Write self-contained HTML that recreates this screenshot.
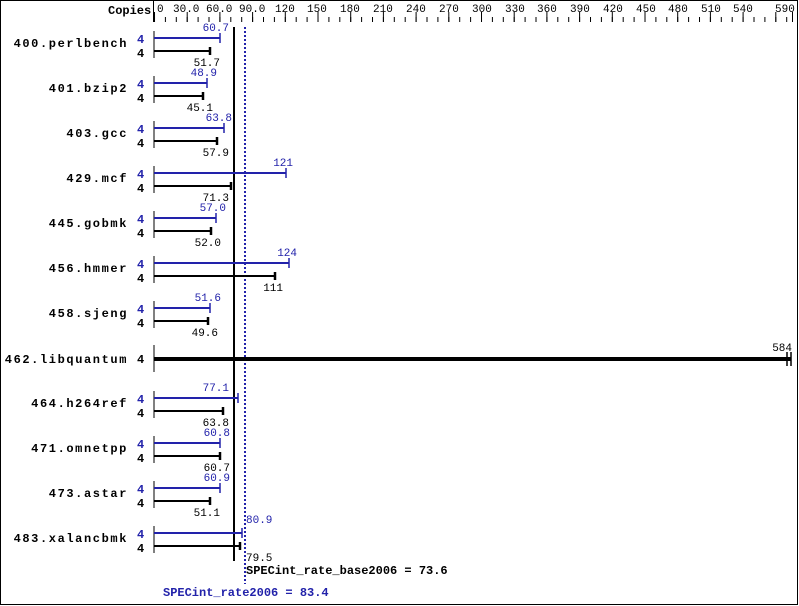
<!DOCTYPE html>
<html><head><meta charset="utf-8"><style>
body{margin:0;background:#fff}
svg{display:block}
text{font-family:"Liberation Mono","DejaVu Sans Mono",monospace}
.v{font-size:11px}
.n{font-size:12px;font-weight:bold;letter-spacing:1.6px}
.c{font-size:12px;font-weight:bold}
.b{fill:#2222aa}
</style></head><body>
<svg width="799" height="606" viewBox="0 0 799 606" xmlns="http://www.w3.org/2000/svg">
<defs>
<pattern id="mn" x="154" y="0" width="10.9" height="606" patternUnits="userSpaceOnUse"><rect x="0" y="0" width="1" height="606" fill="#000"/></pattern>
<pattern id="mj" x="154" y="0" width="32.7" height="606" patternUnits="userSpaceOnUse"><rect x="0" y="0" width="1" height="606" fill="#000"/></pattern>
</defs>
<rect x="0.5" y="0.5" width="797" height="604" fill="#fff" stroke="#000"/>
<line x1="153.5" y1="0" x2="153.5" y2="22" stroke="#000"/>
<text x="108" y="14" class="c">Copies</text>
<rect x="154" y="17" width="640" height="5" fill="url(#mn)"/>
<rect x="154" y="12" width="640" height="10" fill="url(#mj)"/>
<rect x="792" y="12" width="1" height="10" fill="#000"/>
<g class="v">
<text x="157" y="12">0</text><text x="173" y="12">30.0</text><text x="206" y="12">60.0</text><text x="239" y="12">90.0</text>
<text x="275" y="12">120</text><text x="307" y="12">150</text><text x="340" y="12">180</text><text x="373" y="12">210</text>
<text x="406" y="12">240</text><text x="439" y="12">270</text><text x="472" y="12">300</text><text x="505" y="12">330</text>
<text x="537" y="12">360</text><text x="570" y="12">390</text><text x="603" y="12">420</text><text x="636" y="12">450</text>
<text x="668" y="12">480</text><text x="701" y="12">510</text><text x="733" y="12">540</text><text x="775" y="12">590</text>
</g>
<line x1="234" y1="27" x2="234" y2="561" stroke="#000" stroke-width="2"/>
<line x1="245" y1="27" x2="245" y2="584" stroke="#2222aa" stroke-width="2" stroke-dasharray="2,2"/>
<g>
<g transform="translate(0,0)">
<text x="128" y="47" class="n" text-anchor="end">400.perlbench</text>
<text x="137" y="43" class="c b">4</text><text x="137" y="57" class="c">4</text>
<line x1="154" y1="31" x2="154" y2="58" stroke="#000"/>
<line x1="154" y1="38" x2="220" y2="38" stroke="#2222aa" stroke-width="2"/><line x1="220" y1="33" x2="220" y2="43" stroke="#2222aa" stroke-width="1.5"/>
<line x1="154" y1="51" x2="210" y2="51" stroke="#000" stroke-width="2"/><line x1="210" y1="47" x2="210" y2="55" stroke="#000" stroke-width="2.5"/>
<text x="229" y="31" class="v b" text-anchor="end">60.7</text><text x="220" y="66" class="v" text-anchor="end">51.7</text>
</g>
<g transform="translate(0,45)">
<text x="128" y="47" class="n" text-anchor="end">401.bzip2</text>
<text x="137" y="43" class="c b">4</text><text x="137" y="57" class="c">4</text>
<line x1="154" y1="31" x2="154" y2="58" stroke="#000"/>
<line x1="154" y1="38" x2="207" y2="38" stroke="#2222aa" stroke-width="2"/><line x1="207" y1="33" x2="207" y2="43" stroke="#2222aa" stroke-width="1.5"/>
<line x1="154" y1="51" x2="203" y2="51" stroke="#000" stroke-width="2"/><line x1="203" y1="47" x2="203" y2="55" stroke="#000" stroke-width="2.5"/>
<text x="217" y="31" class="v b" text-anchor="end">48.9</text><text x="213" y="66" class="v" text-anchor="end">45.1</text>
</g>
<g transform="translate(0,90)">
<text x="128" y="47" class="n" text-anchor="end">403.gcc</text>
<text x="137" y="43" class="c b">4</text><text x="137" y="57" class="c">4</text>
<line x1="154" y1="31" x2="154" y2="58" stroke="#000"/>
<line x1="154" y1="38" x2="224" y2="38" stroke="#2222aa" stroke-width="2"/><line x1="224" y1="33" x2="224" y2="43" stroke="#2222aa" stroke-width="1.5"/>
<line x1="154" y1="51" x2="217" y2="51" stroke="#000" stroke-width="2"/><line x1="217" y1="47" x2="217" y2="55" stroke="#000" stroke-width="2.5"/>
<text x="232" y="31" class="v b" text-anchor="end">63.8</text><text x="229" y="66" class="v" text-anchor="end">57.9</text>
</g>
<g transform="translate(0,135)">
<text x="128" y="47" class="n" text-anchor="end">429.mcf</text>
<text x="137" y="43" class="c b">4</text><text x="137" y="57" class="c">4</text>
<line x1="154" y1="31" x2="154" y2="58" stroke="#000"/>
<line x1="154" y1="38" x2="286" y2="38" stroke="#2222aa" stroke-width="2"/><line x1="286" y1="33" x2="286" y2="43" stroke="#2222aa" stroke-width="1.5"/>
<line x1="154" y1="51" x2="231" y2="51" stroke="#000" stroke-width="2"/><line x1="231" y1="47" x2="231" y2="55" stroke="#000" stroke-width="2.5"/>
<text x="293" y="31" class="v b" text-anchor="end">121</text><text x="229" y="66" class="v" text-anchor="end">71.3</text>
</g>
<g transform="translate(0,180)">
<text x="128" y="47" class="n" text-anchor="end">445.gobmk</text>
<text x="137" y="43" class="c b">4</text><text x="137" y="57" class="c">4</text>
<line x1="154" y1="31" x2="154" y2="58" stroke="#000"/>
<line x1="154" y1="38" x2="216" y2="38" stroke="#2222aa" stroke-width="2"/><line x1="216" y1="33" x2="216" y2="43" stroke="#2222aa" stroke-width="1.5"/>
<line x1="154" y1="51" x2="211" y2="51" stroke="#000" stroke-width="2"/><line x1="211" y1="47" x2="211" y2="55" stroke="#000" stroke-width="2.5"/>
<text x="226" y="31" class="v b" text-anchor="end">57.0</text><text x="221" y="66" class="v" text-anchor="end">52.0</text>
</g>
<g transform="translate(0,225)">
<text x="128" y="47" class="n" text-anchor="end">456.hmmer</text>
<text x="137" y="43" class="c b">4</text><text x="137" y="57" class="c">4</text>
<line x1="154" y1="31" x2="154" y2="58" stroke="#000"/>
<line x1="154" y1="38" x2="289" y2="38" stroke="#2222aa" stroke-width="2"/><line x1="289" y1="33" x2="289" y2="43" stroke="#2222aa" stroke-width="1.5"/>
<line x1="154" y1="51" x2="275" y2="51" stroke="#000" stroke-width="2"/><line x1="275" y1="47" x2="275" y2="55" stroke="#000" stroke-width="2.5"/>
<text x="297" y="31" class="v b" text-anchor="end">124</text><text x="283" y="66" class="v" text-anchor="end">111</text>
</g>
<g transform="translate(0,270)">
<text x="128" y="47" class="n" text-anchor="end">458.sjeng</text>
<text x="137" y="43" class="c b">4</text><text x="137" y="57" class="c">4</text>
<line x1="154" y1="31" x2="154" y2="58" stroke="#000"/>
<line x1="154" y1="38" x2="210" y2="38" stroke="#2222aa" stroke-width="2"/><line x1="210" y1="33" x2="210" y2="43" stroke="#2222aa" stroke-width="1.5"/>
<line x1="154" y1="51" x2="208" y2="51" stroke="#000" stroke-width="2"/><line x1="208" y1="47" x2="208" y2="55" stroke="#000" stroke-width="2.5"/>
<text x="221" y="31" class="v b" text-anchor="end">51.6</text><text x="218" y="66" class="v" text-anchor="end">49.6</text>
</g>
<g>
<text x="128" y="363" class="n" text-anchor="end">462.libquantum</text>
<text x="137" y="363" class="c">4</text>
<line x1="154" y1="345" x2="154" y2="372" stroke="#000"/>
<line x1="154" y1="359" x2="791" y2="359" stroke="#000" stroke-width="4"/>
<line x1="787" y1="352" x2="787" y2="366" stroke="#000" stroke-width="1.5"/>
<line x1="791" y1="352" x2="791" y2="366" stroke="#000" stroke-width="1.5"/>
<text x="792" y="351" class="v" text-anchor="end">584</text>
</g>
<g transform="translate(0,360)">
<text x="128" y="47" class="n" text-anchor="end">464.h264ref</text>
<text x="137" y="43" class="c b">4</text><text x="137" y="57" class="c">4</text>
<line x1="154" y1="31" x2="154" y2="58" stroke="#000"/>
<line x1="154" y1="38" x2="238" y2="38" stroke="#2222aa" stroke-width="2"/><line x1="238" y1="33" x2="238" y2="43" stroke="#2222aa" stroke-width="1.5"/>
<line x1="154" y1="51" x2="223" y2="51" stroke="#000" stroke-width="2"/><line x1="223" y1="47" x2="223" y2="55" stroke="#000" stroke-width="2.5"/>
<text x="229" y="31" class="v b" text-anchor="end">77.1</text><text x="229" y="66" class="v" text-anchor="end">63.8</text>
</g>
<g transform="translate(0,405)">
<text x="128" y="47" class="n" text-anchor="end">471.omnetpp</text>
<text x="137" y="43" class="c b">4</text><text x="137" y="57" class="c">4</text>
<line x1="154" y1="31" x2="154" y2="58" stroke="#000"/>
<line x1="154" y1="38" x2="220" y2="38" stroke="#2222aa" stroke-width="2"/><line x1="220" y1="33" x2="220" y2="43" stroke="#2222aa" stroke-width="1.5"/>
<line x1="154" y1="51" x2="220" y2="51" stroke="#000" stroke-width="2"/><line x1="220" y1="47" x2="220" y2="55" stroke="#000" stroke-width="2.5"/>
<text x="230" y="31" class="v b" text-anchor="end">60.8</text><text x="230" y="66" class="v" text-anchor="end">60.7</text>
</g>
<g transform="translate(0,450)">
<text x="128" y="47" class="n" text-anchor="end">473.astar</text>
<text x="137" y="43" class="c b">4</text><text x="137" y="57" class="c">4</text>
<line x1="154" y1="31" x2="154" y2="58" stroke="#000"/>
<line x1="154" y1="38" x2="220" y2="38" stroke="#2222aa" stroke-width="2"/><line x1="220" y1="33" x2="220" y2="43" stroke="#2222aa" stroke-width="1.5"/>
<line x1="154" y1="51" x2="210" y2="51" stroke="#000" stroke-width="2"/><line x1="210" y1="47" x2="210" y2="55" stroke="#000" stroke-width="2.5"/>
<text x="230" y="31" class="v b" text-anchor="end">60.9</text><text x="220" y="66" class="v" text-anchor="end">51.1</text>
</g>
<g transform="translate(0,495)">
<text x="128" y="47" class="n" text-anchor="end">483.xalancbmk</text>
<text x="137" y="43" class="c b">4</text><text x="137" y="57" class="c">4</text>
<line x1="154" y1="31" x2="154" y2="58" stroke="#000"/>
<line x1="154" y1="38" x2="242" y2="38" stroke="#2222aa" stroke-width="2"/><line x1="242" y1="33" x2="242" y2="43" stroke="#2222aa" stroke-width="1.5"/>
<line x1="154" y1="51" x2="240" y2="51" stroke="#000" stroke-width="2"/><line x1="240" y1="47" x2="240" y2="55" stroke="#000" stroke-width="2.5"/>
<text x="246" y="28" class="v b">80.9</text><text x="246" y="66" class="v">79.5</text>
</g>
</g>
<text x="246" y="574" class="c">SPECint_rate_base2006 = 73.6</text>
<text x="163" y="596" class="c b">SPECint_rate2006 = 83.4</text>
</svg>
</body></html>
